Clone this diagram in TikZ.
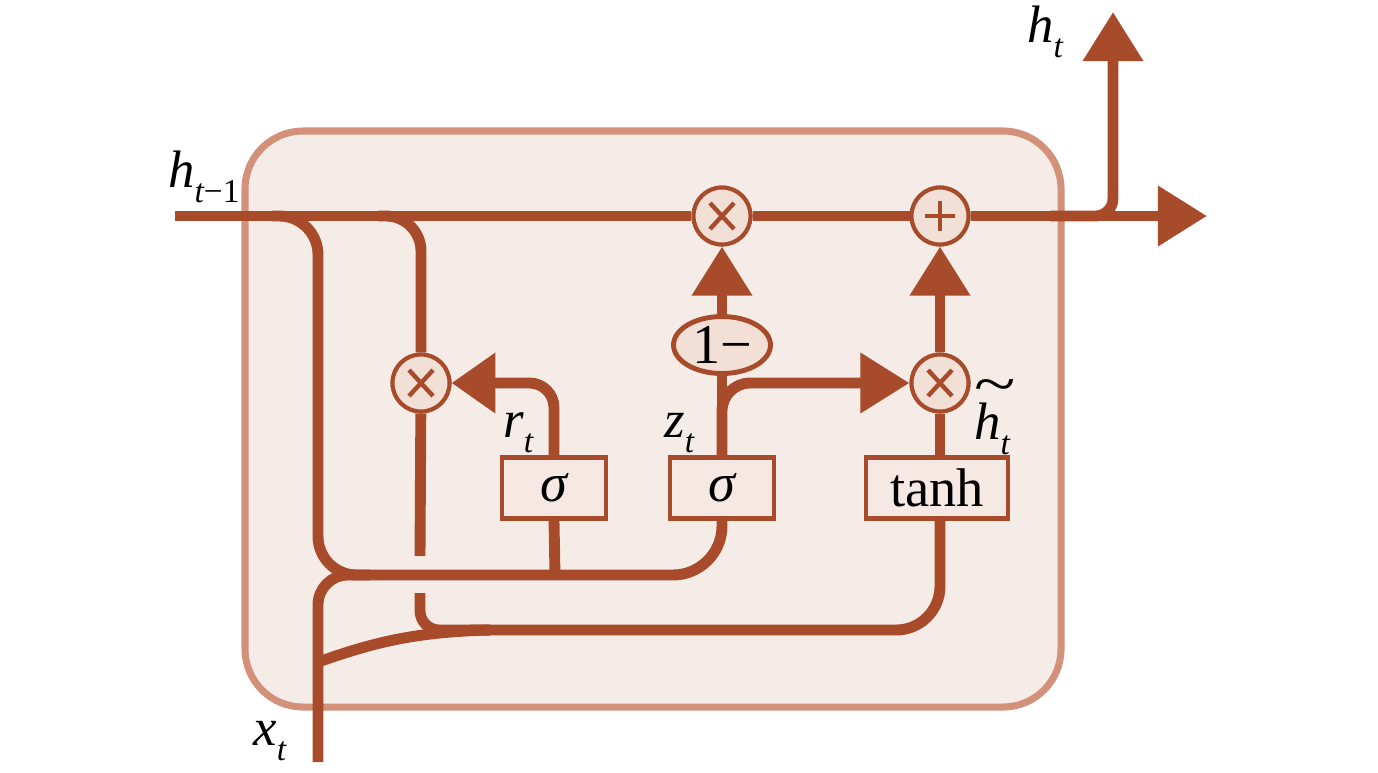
\documentclass[tikz,border=0pt]{standalone}
\usepackage{fontspec}
\setmainfont{Liberation Serif}
\usepackage{graphicx}
\usetikzlibrary{arrows.meta,shapes.geometric}
\definecolor{wirec}{RGB}{168,75,43}
\definecolor{boxline}{RGB}{210,145,120}
\definecolor{boxfill}{RGB}{246,236,231}
\definecolor{gatefill}{RGB}{242,223,213}
\definecolor{sigfill}{RGB}{246,232,227}
\newcommand{\lblsub}[1]{\raisebox{-0.3em}{\fontsize{19}{19}\selectfont #1}}
\tikzset{
  wire/.style={draw=wirec, line width=6.2pt},
  bigtip/.style={-{Triangle[length=28pt,width=33pt]}},
  rtip/.style={-{Triangle[length=25pt,width=33pt]}},
  gatebase/.style={circle, draw=wirec, fill=gatefill, line width=2.3pt, minimum size=1.14cm, inner sep=0pt},
  gatemul/.style={gatebase, path picture={
      \draw[draw=wirec, line width=2.5pt]
        ([shift={(-12,-13)}]path picture bounding box.center) -- ([shift={(12,13)}]path picture bounding box.center)
        ([shift={(-12,13)}]path picture bounding box.center) -- ([shift={(12,-13)}]path picture bounding box.center);}},
  gateadd/.style={gatebase, path picture={
      \draw[draw=wirec, line width=2.5pt]
        ([shift={(-15,0)}]path picture bounding box.center) -- ([shift={(15,0)}]path picture bounding box.center)
        ([shift={(0,-15)}]path picture bounding box.center) -- ([shift={(0,15)}]path picture bounding box.center);}},
  actbox/.style={rectangle, draw=wirec, fill=sigfill, line width=2.8pt, minimum height=1.22cm, inner sep=0pt, font=\fontsize{31}{36}\selectfont},
  onebox/.style={ellipse, draw=wirec, fill=gatefill, line width=2.8pt, minimum width=1.94cm, minimum height=1.14cm, inner sep=0pt, font=\fontsize{32}{36}\selectfont},
  lbl/.style={anchor=base west, inner sep=0pt, font=\fontsize{30}{36}\selectfont}
}
\begin{document}
\begin{tikzpicture}[x=0.02cm, y=-0.02cm]
\useasboundingbox (0,0) rectangle (1378,772);
% cell
\draw[draw=boxline, fill=boxfill, line width=4pt, rounded corners=33pt] (245,131) rectangle (1061,707);

% nodes
\node[gatemul] (gx1) at (722,216) {};
\node[gateadd] (gplus) at (940,216) {};
\node[gatemul] (gx2) at (940,383) {};
\node[gatemul] (gxr) at (421,383) {};
\node[onebox] (onem) at (722,345) {1−};
\node[actbox, minimum width=2.08cm] (sr) at (554,488) {\itshape σ};
\node[actbox, minimum width=2.08cm] (sz) at (722,488) {\itshape σ};
\node[actbox, minimum width=2.84cm] (tanh) at (937,488) {tanh};

\coordinate (hin) at (175,216);
\coordinate (hout) at (1207,216);
\coordinate (htout) at (1113,12);
\coordinate (xin) at (318,762);
\coordinate (b1) at (272,216);
\coordinate (b2) at (378,216);
\coordinate (b3) at (1050,216);
\coordinate (junc) at (370,575);
\coordinate (rjoin) at (555,575);
\coordinate (gapA) at (420,556);
\coordinate (gapB) at (420,593);
\coordinate (low1) at (490,630);
\coordinate (low2) at (470,630);
\coordinate (xb) at (318,662);

% main state line
\draw[wire] (hin) -- (gx1);
\draw[wire] (gx1) -- (gplus);
\draw[wire, bigtip] (gplus) -- (hout);
\draw[wire, bigtip, rounded corners=10pt] (b3) -| (htout);

% branches from h_{t-1}
\draw[wire, rounded corners=22pt] (b1) -| (318,575) [rounded corners=28pt] -| (sz.south);
\draw[wire, rounded corners=20pt] (b2) -| (gxr);
\draw[wire] (gxr) -- (gapA);
\draw[wire, rounded corners=11pt] (gapB) |- (low1);
\draw[wire, rounded corners=25pt] (low2) -| (tanh.south -| gx2);

% x_t input
\draw[wire, rounded corners=17pt] (xin) |- (junc);
\draw[wire] (xb) .. controls (370,644) and (410,632) .. (low1);

% reset gate
\draw[wire] (sr.south) -- (rjoin);
\draw[wire, rtip, rounded corners=14pt] (sr.north) |- (gxr);

% update gate
\draw[wire] (sz.north) -- (onem);
\draw[wire, bigtip] (onem) -- (gx1);
\draw[wire, bigtip, rounded corners=16pt] (sz.north) |- (gx2);

% candidate
\draw[wire] (tanh.north -| gx2) -- (gx2);
\draw[wire, bigtip] (gx2) -- (gplus);

% redraw gates on top
\node[gatemul] at (gx1) {};
\node[gateadd] at (gplus) {};
\node[gatemul] at (gx2) {};
\node[gatemul] at (gxr) {};

% labels
\node[lbl] (lhin) at (168,187) {\itshape h\lblsub{\itshape t\upshape −1}};
\node[lbl] (lhout) at (1027,42) {\itshape h\lblsub{\itshape t}};
\node[lbl] (lxt) at (253,745) {\itshape x\lblsub{\itshape t}};
\node[lbl] (lrt) at (503,437) {\itshape r\lblsub{\itshape t}};
\node[lbl] (lzt) at (664,437) {\itshape z\lblsub{\itshape t}};
\node[lbl] (lht) at (974,439) {\rlap{\raisebox{0.68em}{\scalebox{1.45}[1.1]{\char"7E}}}\itshape h\lblsub{\itshape t}};
\end{tikzpicture}
\end{document}
